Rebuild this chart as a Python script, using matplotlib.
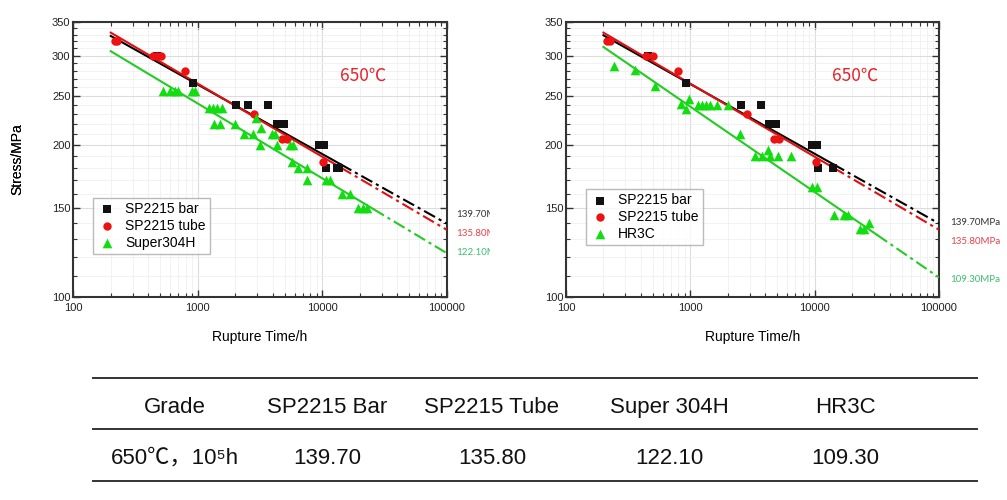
import numpy as np
import matplotlib
matplotlib.use("Agg")
import matplotlib.pyplot as plt
from matplotlib.ticker import FixedLocator, MultipleLocator, NullFormatter, FuncFormatter, LogLocator
from matplotlib.lines import Line2D
from matplotlib.transforms import Bbox, TransformedBbox

W, H = 1007, 500

# ---------------- data: left chart (SP2215 vs Super304H) ----------------
bar_t_l = [468, 921, 2020, 2545, 3690, 4300, 4930, 9480, 10400, 10660, 13240, 13740]
bar_s_l = [300, 265, 240, 240, 240, 220, 220, 200, 200, 180, 180, 180]
tube_t_l = [216, 226, 434, 468, 507, 789, 2830, 4720, 5190, 10200]
tube_s_l = [320, 320, 300, 300, 300, 280, 230, 205, 205, 185]
s304_t = [528, 598, 656, 698, 893, 951, 1240, 1334, 1436, 1575, 1349, 1507, 1990,
          2360, 2790, 2940, 3140, 3220, 3950, 4180, 4300, 5520, 5870, 5700, 6420,
          7520, 7520, 10690, 11600, 14500, 16700, 19500, 21400, 22800]
s304_s = [255, 255, 255, 255, 255, 255, 236, 236, 236, 236, 220, 220, 220,
          210, 210, 226, 200, 216, 210, 210, 200, 200, 200, 185, 180,
          180, 170, 170, 170, 160, 160, 150, 150, 150]

# ---------------- data: right chart (SP2215 vs HR3C) ----------------
bar_t_r = [459, 922, 2560, 3680, 4300, 4890, 9580, 10370, 10690, 13960]
bar_s_r = [300, 265, 240, 240, 220, 220, 200, 200, 180, 180]
tube_t_r = [212, 226, 437, 504, 791, 2840, 4740, 5170, 10180]
tube_s_r = [320, 320, 300, 300, 280, 230, 205, 205, 185]
hr3c_t = [245, 359, 520, 841, 982, 923, 1146, 1234, 1329, 1439, 1629, 2021, 2512,
          3311, 3750, 4375, 5105, 4240, 6460, 9580, 10370, 14220, 17100, 18400,
          23300, 24800, 27500]
hr3c_s = [286, 281, 261, 241, 246, 235, 240, 240, 240, 240, 240, 240, 210,
          190, 190, 190, 190, 195, 190, 165, 165, 145, 145, 145,
          136, 136, 140]

# fitted lines: stress at 200 h, stress at 1e5 h, end of solid part (h)
fit_names_l = ["SP2215 bar", "SP2215 tube", "Super304H"]
fit_s200_l = [328, 333, 306]
fit_s1e5_l = [139.70, 135.80, 122.10]
fit_tend_l = [14000, 14000, 25700]

fit_names_r = ["SP2215 bar", "SP2215 tube", "HR3C"]
fit_s200_r = [329, 333, 312]
fit_s1e5_r = [139.70, 135.80, 109.30]
fit_tend_r = [14100, 14100, 31600]

# table
table_header = ["Grade", "SP2215 Bar", "SP2215 Tube", "Super 304H", "HR3C"]
table_row = ["650℃，10⁵h", "139.70", "135.80", "122.10", "109.30"]

C_BLACK = "#111111"
C_RED = "#ee1111"
C_GREEN = "#11dd11"
LINE_COLORS = ["#000000", "#e01010", "#22cc22"]
LABEL_COLORS = ["#333333", "#e8414a", "#3bbf6e"]

plt.rcParams['font.family'] = ['Liberation Sans', 'Noto Sans CJK SC', 'DejaVu Sans']


def fx(px):
    return px / W


def fy(py):
    return 1 - py / H


fig = plt.figure(figsize=(W / 100, H / 100), dpi=100)


def make_chart(left_px, right_px, pts, s200, s1e5, tend, names, lab_x, lab_y, clip_x, legend_xy):
    ax = fig.add_axes([fx(left_px), fy(297), fx(right_px) - fx(left_px), fy(21.7) - fy(297)])
    ax.set_xscale('log')
    ax.set_yscale('log')
    ax.set_xlim(100, 100000)
    ax.set_ylim(100, 350)

    ax.xaxis.set_major_locator(FixedLocator([100, 1000, 10000, 100000]))
    ax.xaxis.set_minor_locator(LogLocator(base=10, subs=np.arange(2, 10)))
    ax.xaxis.set_major_formatter(FuncFormatter(lambda v, p: f"{v:.0f}"))
    ax.xaxis.set_minor_formatter(NullFormatter())
    ax.yaxis.set_major_locator(FixedLocator([100, 150, 200, 250, 300, 350]))
    ax.yaxis.set_minor_locator(MultipleLocator(10))
    ax.yaxis.set_major_formatter(FuncFormatter(lambda v, p: f"{v:.0f}"))
    ax.yaxis.set_minor_formatter(NullFormatter())

    ax.grid(True, which='major', color='#dcdcdc', lw=0.8)
    ax.grid(True, which='minor', color='#f0f0f0', lw=0.6)
    ax.set_axisbelow(True)
    ax.tick_params(which='both', direction='in', top=True, right=True, colors='#333333',
                   labelcolor='#222222', labelsize=8)
    ax.tick_params(which='major', length=5, width=1)
    ax.tick_params(which='minor', length=3, width=0.8)
    ax.tick_params(axis='y', pad=2)
    ax.tick_params(axis='x', pad=4)
    for sp in ax.spines.values():
        sp.set_color('#333333')
        sp.set_linewidth(1.5)

    ax.set_ylabel("Stress/MPa", fontsize=10)
    ax.set_xlabel("Rupture Time/h", fontsize=10)
    ax.yaxis.set_label_coords((24 - left_px) / (right_px - left_px), 0.5)
    ax.xaxis.set_label_coords(0.5, (297 - 330) / 275.3)

    # fit lines
    for i in range(3):
        n = np.log(s1e5[i] / s200[i]) / np.log(1e5 / 200)
        t1 = np.array([200, tend[i]])
        t2 = np.array([tend[i], 1e5])
        ax.plot(t1, s200[i] * (t1 / 200) ** n, color=LINE_COLORS[i], lw=1.5, zorder=3)
        ax.plot(t2, s200[i] * (t2 / 200) ** n, color=LINE_COLORS[i], lw=1.5,
                ls=(0, (6, 2, 1.5, 2)), zorder=3)

    markers = ['s', 'o', '^']
    colors = [C_BLACK, C_RED, C_GREEN]
    sizes = [30, 36, 48]
    for i, (t, s) in enumerate(pts):
        ax.scatter(t, s, marker=markers[i], s=sizes[i], color=colors[i], lw=0,
                   zorder=4, label=names[i])

    leg = ax.legend(loc='upper left', bbox_to_anchor=legend_xy, fontsize=10,
                    frameon=True, fancybox=False, edgecolor='#aaaaaa',
                    handletextpad=0.6, borderpad=0.3, labelspacing=0.2,
                    handlelength=1.4, borderaxespad=0)
    leg.get_frame().set_linewidth(1.0)

    clip = TransformedBbox(Bbox([[0, 0], [fx(clip_x), 1]]), fig.transFigure)
    for i in range(3):
        t = fig.text(fx(lab_x), fy(lab_y[i]), f"{s1e5[i]:.2f}MPa", fontsize=7,
                     color=LABEL_COLORS[i], va='center', ha='left',
                     family=['Lato', 'DejaVu Sans'], clip_on=True)
        t.set_clip_box(clip)
    return ax


ax1 = make_chart(73.3, 446.7,
                 [(bar_t_l, bar_s_l), (tube_t_l, tube_s_l), (s304_t, s304_s)],
                 fit_s200_l, fit_s1e5_l, fit_tend_l, fit_names_l,
                 456, [215, 233.5, 252.5], 490, (0.053, 0.36))
ax2 = make_chart(566, 939,
                 [(bar_t_r, bar_s_r), (tube_t_r, tube_s_r), (hr3c_t, hr3c_s)],
                 fit_s200_r, fit_s1e5_r, fit_tend_r, fit_names_r,
                 950, [222.5, 242, 279.5], W, (0.054, 0.392))

for cx in [363, 855.5]:
    fig.text(fx(cx), fy(76), "650℃", fontsize=12.5, color='#e8202a', ha='center', va='center',
             family=['Noto Sans CJK SC', 'DejaVu Sans'])

# table
for ly in [378, 429, 480.5]:
    fig.add_artist(Line2D([fx(93), fx(977)], [fy(ly), fy(ly)], color='#333333', lw=1.4))
col_x = [175, 327, 492, 669, 845]
for cx, h, v in zip(col_x, table_header, table_row):
    fig.text(fx(cx), fy(413), h, fontsize=16, ha='center', va='baseline', color='#111111')
    fig.text(fx(cx), fy(464), v, fontsize=16, ha='center', va='baseline', color='#111111')

fig.savefig("out.png", dpi=100)
